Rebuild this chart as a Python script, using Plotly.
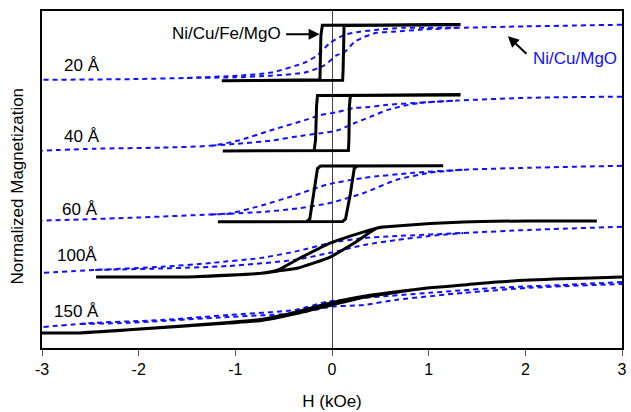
import plotly.graph_objects as go

# Field values in kOe, magnetization normalized to +/-1 for each loop.
# Each sample is stacked vertically by its own offset.
thickness_labels = ["20 Å", "40 Å", "60 Å", "100Å", "150 Å"]
offsets = [10.55, 8.04, 5.51, 3.54, 1.54]

# --- Ni/Cu/Fe/MgO (solid black) ---
fe20_desc_h = [1.33, -0.10, -0.115, -0.12, -0.125, -1.14]
fe20_desc_m = [1.0, 0.98, 0.6, -0.6, -0.97, -1.0]
fe20_asc_h = [-1.14, 0.11, 0.115, 0.12, 0.125, 1.33]
fe20_asc_m = [-1.0, -0.98, -0.6, 0.6, 0.97, 1.0]

fe40_desc_h = [1.33, -0.15, -0.16, -0.17, -0.185, -1.13]
fe40_desc_m = [1.0, 0.98, 0.6, -0.6, -0.98, -1.0]
fe40_asc_h = [-1.13, 0.17, 0.175, 0.18, 0.19, 1.33]
fe40_asc_m = [-1.0, -0.98, -0.6, 0.6, 0.98, 1.0]

fe60_desc_h = [1.15, -0.12, -0.15, -0.19, -0.23, -0.26, -1.18]
fe60_desc_m = [1.0, 0.99, 0.9, 0.0, -0.9, -0.99, -1.0]
fe60_asc_h = [-1.18, 0.11, 0.14, 0.19, 0.23, 0.26, 1.15]
fe60_asc_m = [-1.0, -0.99, -0.9, 0.0, 0.9, 0.99, 1.0]

fe100_desc_h = [2.74, 2.04, 1.36, 0.67, 0.47, 0.33, -0.02, -0.35, -0.56, -0.73, -1.41, -2.44]
fe100_desc_m = [1.0, 1.0, 0.96, 0.82, 0.75, 0.61, 0.21, -0.36, -0.75, -0.87, -0.99, -1.0]
fe100_asc_h = [-2.44, -1.41, -0.73, -0.56, -0.35, -0.02, 0.23, 0.47, 0.67, 1.36, 2.04, 2.74]
fe100_asc_m = [-1.0, -0.99, -0.87, -0.79, -0.68, -0.29, 0.21, 0.75, 0.82, 0.96, 1.0, 1.0]

fe150_desc_h = [3.0, 2.38, 1.7, 1.36, 1.01, 0.67, 0.33, -0.05, -0.38, -0.73, -1.07, -2.1, -2.61, -3.0]
fe150_desc_m = [1.0, 0.93, 0.82, 0.71, 0.61, 0.47, 0.31, 0.04, -0.26, -0.52, -0.63, -0.89, -1.0, -1.0]
fe150_asc_h = [-3.0, -2.61, -2.1, -1.07, -0.73, -0.38, -0.05, 0.33, 0.67, 1.01, 1.36, 1.7, 2.38, 3.0]
fe150_asc_m = [-1.0, -1.0, -0.89, -0.65, -0.56, -0.32, -0.04, 0.27, 0.45, 0.61, 0.71, 0.82, 0.93, 1.0]

# --- Ni/Cu/MgO (dashed blue) ---
# Descending branch covers the full sweep; the ascending branch is the
# open part of the loop, between the points where it leaves and rejoins.
ni20_desc_h = [3.0, 2.0, 1.3, 0.74, 0.47, 0.29, 0.13, -0.02, -0.15, -0.28, -0.63, -0.97, -1.5, -2.0, -3.0]
ni20_desc_m = [1.0, 0.94, 0.89, 0.89, 0.82, 0.75, 0.64, 0.35, -0.09, -0.35, -0.71, -0.82, -0.9, -0.94, -0.97]
ni20_asc_h = [-1.5, -1.0, -0.63, -0.28, -0.08, 0.05, 0.13, 0.23, 0.33, 0.46, 0.64, 0.91, 1.3]
ni20_asc_m = [-0.9, -0.88, -0.82, -0.71, -0.45, -0.09, 0.02, 0.38, 0.56, 0.71, 0.75, 0.82, 0.89]

ni40_desc_h = [3.0, 2.04, 1.29, 0.91, 0.57, 0.39, 0.23, 0.06, -0.12, -0.28, -0.63, -0.97, -1.25, -1.76, -2.45, -3.0]
ni40_desc_m = [0.94, 0.9, 0.8, 0.72, 0.65, 0.57, 0.54, 0.39, 0.28, 0.10, -0.26, -0.63, -0.81, -0.88, -0.92, -0.99]
ni40_asc_h = [-1.25, -0.97, -0.63, -0.28, -0.12, 0.06, 0.23, 0.39, 0.57, 0.74, 0.91, 1.29]
ni40_asc_m = [-0.81, -0.74, -0.63, -0.44, -0.37, -0.26, -0.01, 0.21, 0.46, 0.61, 0.72, 0.8]

ni60_desc_h = [3.0, 2.04, 1.36, 0.85, 0.33, -0.05, -0.38, -0.73, -1.07, -1.25, -2.1, -3.0]
ni60_desc_m = [1.0, 0.93, 0.86, 0.75, 0.57, 0.33, -0.05, -0.42, -0.71, -0.74, -0.86, -0.96]
ni60_asc_h = [-1.25, -0.73, -0.35, -0.02, 0.33, 0.67, 1.01, 1.36]
ni60_asc_m = [-0.74, -0.65, -0.52, -0.33, 0.03, 0.50, 0.75, 0.86]

ni100_desc_h = [3.0, 2.04, 1.36, 0.67, 0.33, -0.02, -0.35, -0.73, -1.25, -1.76, -2.45, -3.0]
ni100_desc_m = [0.79, 0.68, 0.57, 0.46, 0.39, 0.21, -0.07, -0.32, -0.5, -0.64, -0.75, -0.86]
ni100_asc_h = [-2.45, -1.76, -1.07, -0.38, -0.02, 0.33, 0.67, 1.01, 1.36]
ni100_asc_m = [-0.75, -0.70, -0.61, -0.39, -0.14, 0.14, 0.32, 0.46, 0.57]

ni150_desc_h = [3.0, 2.38, 1.7, 1.01, 0.33, -0.05, -0.38, -1.07, -1.76, -2.45, -3.0]
ni150_desc_m = [0.82, 0.71, 0.61, 0.43, 0.25, 0.11, -0.18, -0.36, -0.54, -0.64, -0.79]
ni150_asc_h = [-2.6, -2.1, -1.07, -0.35, -0.02, 0.33, 0.67, 1.36, 2.04, 3.0]
ni150_asc_m = [-0.68, -0.64, -0.43, -0.29, -0.07, 0.0, 0.18, 0.43, 0.61, 0.75]

x_ticks = [-3, -2, -1, 0, 1, 2, 3]

FONT = "Liberation Sans, Arial, sans-serif"
BLUE = "#1010ff"

fe_loops = [
    (fe20_desc_h, fe20_desc_m, fe20_asc_h, fe20_asc_m, "linear"),
    (fe40_desc_h, fe40_desc_m, fe40_asc_h, fe40_asc_m, "linear"),
    (fe60_desc_h, fe60_desc_m, fe60_asc_h, fe60_asc_m, "linear"),
    (fe100_desc_h, fe100_desc_m, fe100_asc_h, fe100_asc_m, "spline"),
    (fe150_desc_h, fe150_desc_m, fe150_asc_h, fe150_asc_m, "spline"),
]
ni_loops = [
    (ni20_desc_h, ni20_desc_m, ni20_asc_h, ni20_asc_m),
    (ni40_desc_h, ni40_desc_m, ni40_asc_h, ni40_asc_m),
    (ni60_desc_h, ni60_desc_m, ni60_asc_h, ni60_asc_m),
    (ni100_desc_h, ni100_desc_m, ni100_asc_h, ni100_asc_m),
    (ni150_desc_h, ni150_desc_m, ni150_asc_h, ni150_asc_m),
]

fig = go.Figure()

# Dashed Ni/Cu/MgO branches (drawn first, beneath the Fe loops)
blue_line = dict(color=BLUE, width=2, dash="5px,4px", shape="spline", smoothing=0.6)
for off, (dh, dm, ah, am) in zip(offsets, ni_loops):
    for hh, mm in ((dh, dm), (ah, am)):
        fig.add_trace(go.Scatter(
            x=hh, y=[off + v for v in mm], mode="lines", line=blue_line,
            showlegend=False, hoverinfo="skip",
        ))

# Solid Ni/Cu/Fe/MgO loops
for off, (dh, dm, ah, am, shp) in zip(offsets, fe_loops):
    line = dict(color="black", width=3, shape=shp)
    if shp == "spline":
        line["smoothing"] = 0.5
    fig.add_trace(go.Scatter(
        x=dh + ah, y=[off + v for v in dm + am],
        mode="lines", line=line,
        showlegend=False, hoverinfo="skip",
    ))

annotations = []
# Thickness labels on the left
label_h = [-2.59, -2.59, -2.61, -2.64, -2.64]
label_y = [10.11, 7.54, 4.96, 3.32, 1.32]
for txt, hx, yy in zip(thickness_labels, label_h, label_y):
    annotations.append(dict(x=hx, y=yy, xref="x", yref="y", text=txt, showarrow=False,
                            font=dict(family=FONT, size=17, color="black"),
                            xanchor="center", yanchor="middle"))

# Sample names with arrows
annotations.append(dict(x=-1.09, y=11.25, xref="x", yref="y", text="Ni/Cu/Fe/MgO",
                        showarrow=False, font=dict(family=FONT, size=17, color="black"),
                        xanchor="center", yanchor="middle"))
annotations.append(dict(x=-0.128, y=11.21, xref="x", yref="y", text="", showarrow=True,
                        ax=-35, ay=0, arrowhead=2, arrowsize=1.1, arrowwidth=2,
                        arrowcolor="black"))
annotations.append(dict(x=2.51, y=10.36, xref="x", yref="y", text="Ni/Cu/MgO",
                        showarrow=False, font=dict(family=FONT, size=17, color=BLUE),
                        xanchor="center", yanchor="middle"))
annotations.append(dict(x=1.82, y=11.14, xref="x", yref="y", text="", showarrow=True,
                        ax=20, ay=19, arrowhead=2, arrowsize=1.1, arrowwidth=2,
                        arrowcolor="black"))

# Vertical axis title
annotations.append(dict(x=-0.0427, y=0.48, xref="paper", yref="paper",
                        text="Normalized Magnetization", textangle=-90, showarrow=False,
                        font=dict(family=FONT, size=17, color="black"),
                        xanchor="center", yanchor="middle"))

fig.update_layout(
    width=631, height=412,
    margin=dict(l=42, r=4, t=11, b=64),
    paper_bgcolor="white", plot_bgcolor="white",
    annotations=annotations,
    xaxis=dict(
        range=[-3, 3], tickvals=x_ticks, ticktext=[str(v) for v in x_ticks],
        ticks="outside", ticklen=6, tickwidth=1, tickcolor="#555",
        showline=True, linecolor="black", linewidth=2, mirror=True,
        showgrid=False, zeroline=True, zerolinecolor="#444", zerolinewidth=1,
        tickfont=dict(family=FONT, size=16, color="black"),
        title=dict(text="H (kOe)", font=dict(family=FONT, size=17, color="black"), standoff=18),
    ),
    yaxis=dict(
        range=[0, 12.04], showticklabels=False, ticks="",
        showline=True, linecolor="black", linewidth=2, mirror=True,
        showgrid=False, zeroline=False,
    ),
)

fig.write_html("out.html")
